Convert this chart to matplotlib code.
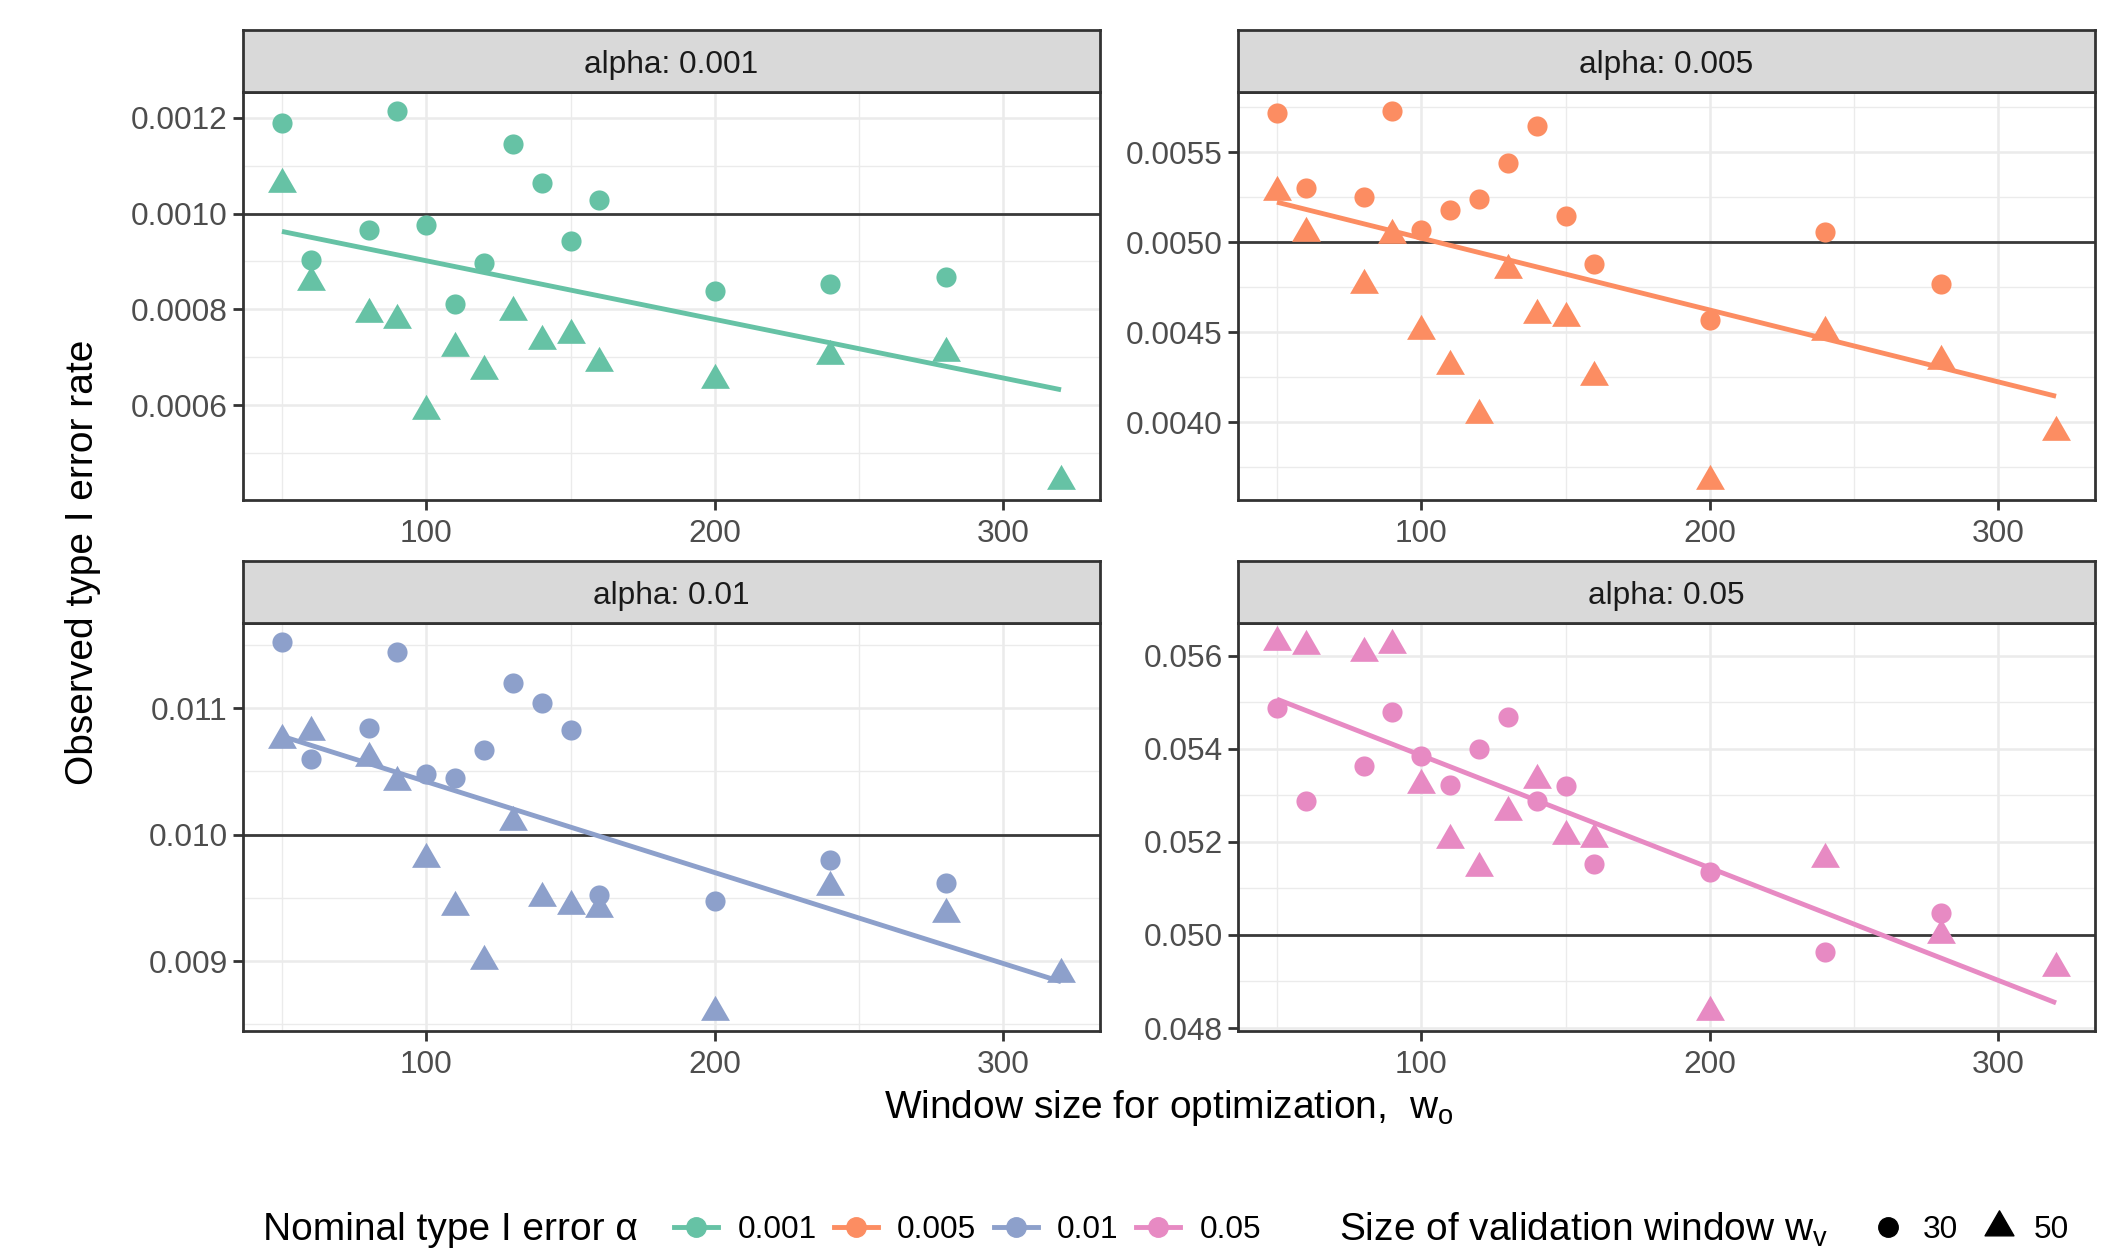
import numpy as np
import matplotlib
matplotlib.use("Agg")
import matplotlib.pyplot as plt
from matplotlib.lines import Line2D
from matplotlib.path import Path
from matplotlib.ticker import MultipleLocator, FormatStrFormatter

# window size for optimization (x), shared by every panel
window = [50, 60, 80, 90, 100, 110, 120, 130, 140, 150, 160, 200, 240, 280, 320]

alpha_levels = [0.001, 0.005, 0.01, 0.05]
alpha_labels = ["0.001", "0.005", "0.01", "0.05"]

# observed type I error rate, w_v = 30 (circles) and w_v = 50 (triangles)
a001_v30 = [0.001189, 0.000904, 0.000965, 0.001215, 0.000977, 0.000811, 0.000896, 0.001146,
            0.001063, 0.000943, 0.001028, 0.000838, 0.000852, 0.000867, np.nan]
a001_v50 = [0.001062, 0.000857, 0.000791, 0.000778, 0.000587, 0.000720, 0.000672, 0.000794,
            0.000734, 0.000747, 0.000688, 0.000652, 0.000702, 0.000709, 0.000441]
a005_v30 = [0.005716, 0.005301, 0.005251, 0.005731, 0.005066, 0.005177, 0.005238, 0.005441,
            0.005644, 0.005145, 0.004876, 0.004567, 0.005055, 0.004765, np.nan]
a005_v50 = [0.005277, 0.005051, 0.004763, 0.005040, 0.004506, 0.004311, 0.004037, 0.004846,
            0.004597, 0.004578, 0.004251, 0.003670, 0.004503, 0.004338, 0.003947]
a01_v30 = [0.011526, 0.010600, 0.010845, 0.011447, 0.010481, 0.010447, 0.010668, 0.011200,
           0.011039, 0.010829, 0.009521, 0.009476, 0.009802, 0.009618, np.nan]
a01_v50 = [0.010745, 0.010810, 0.010608, 0.010416, 0.009810, 0.009431, 0.009002, 0.010100,
           0.009500, 0.009434, 0.009413, 0.008594, 0.009587, 0.009376, 0.008900]
a05_v30 = [0.054881, 0.052884, 0.053633, 0.054795, 0.053847, 0.053226, 0.054000, 0.054681,
           0.052870, 0.053191, 0.051515, 0.051351, 0.049640, 0.050460, np.nan]
a05_v50 = [0.056300, 0.056207, 0.056050, 0.056228, 0.053212, 0.052036, 0.051444, 0.052649,
           0.053319, 0.052114, 0.052050, 0.048335, 0.051622, 0.050000, 0.049291]

v30_series = [a001_v30, a005_v30, a01_v30, a05_v30]
v50_series = [a001_v50, a005_v50, a01_v50, a05_v50]

colors = ["#66C2A5", "#FC8D62", "#8DA0CB", "#E78AC3"]
y_steps = [0.0002, 0.0005, 0.001, 0.002]
y_fmts = ["%.4f", "%.4f", "%.3f", "%.3f"]

plt.rcParams["font.family"] = ["Liberation Sans", "DejaVu Sans"]
plt.rcParams["mathtext.fontset"] = "custom"
plt.rcParams["mathtext.rm"] = "Liberation Sans"
plt.rcParams["mathtext.it"] = "Liberation Sans:italic"

W, H = 2103, 1254
fig = plt.figure(figsize=(W / 100, H / 100), dpi=100)


def box(l, t, w, h):
    return [l / W, 1 - (t + h) / H, w / W, h / H]


# triangle with its centroid on the data point, like R's pch 17
tri = Path([(0, 1), (-0.866, -0.5), (0.866, -0.5), (0, 1)],
           [Path.MOVETO, Path.LINETO, Path.LINETO, Path.CLOSEPOLY])

lefts = [243, 1238]
tops = [92, 623]
pw, ph, sh = 857, 408, 62
dark = "#333333"

x = np.array(window, dtype=float)
for i, alpha in enumerate(alpha_levels):
    r, c = divmod(i, 2)
    ax = fig.add_axes(box(lefts[c], tops[r], pw, ph))
    y30 = np.array(v30_series[i])
    y50 = np.array(v50_series[i])

    ax.axhline(alpha, color="#3a3a3a", lw=2.0, zorder=2)
    ax.scatter(x, y30, s=14.5 ** 2, marker="o", color=colors[i], lw=0, zorder=3)
    ax.scatter(x, y50, s=24 ** 2, marker=tri, color=colors[i], lw=0, zorder=3)

    # linear fit over both validation windows
    xs = np.concatenate([x, x])
    ys = np.concatenate([y30, y50])
    ok = ~np.isnan(ys)
    k, b = np.polyfit(xs[ok], ys[ok], 1)
    xl = np.array([x.min(), x.max()])
    ax.plot(xl, k * xl + b, color=colors[i], lw=3.5, zorder=4, solid_capstyle="butt")

    ax.set_xlim(x.min() - 0.05 * np.ptp(x), x.max() + 0.05 * np.ptp(x))
    lo, hi = np.nanmin(ys), np.nanmax(ys)
    ax.set_ylim(lo - 0.05 * (hi - lo), hi + 0.05 * (hi - lo))

    ax.xaxis.set_major_locator(MultipleLocator(100))
    ax.xaxis.set_minor_locator(MultipleLocator(50))
    ax.yaxis.set_major_locator(MultipleLocator(y_steps[i]))
    ax.yaxis.set_minor_locator(MultipleLocator(y_steps[i] / 2))
    ax.yaxis.set_major_formatter(FormatStrFormatter(y_fmts[i]))

    ax.grid(which="major", color="#EBEBEB", lw=1.8, zorder=0)
    ax.grid(which="minor", color="#EBEBEB", lw=1.0, zorder=0)
    ax.set_axisbelow(True)
    ax.tick_params(which="major", length=7, width=2, color=dark, labelsize=22.8,
                   labelcolor="#4D4D4D", pad=4)
    ax.tick_params(axis="x", which="major", pad=7)
    ax.tick_params(which="minor", length=0)
    for sp in ax.spines.values():
        sp.set_color(dark)
        sp.set_linewidth(2)

    sax = fig.add_axes(box(lefts[c], tops[r] - sh, pw, sh))
    sax.set_facecolor("#D9D9D9")
    sax.set_xticks([])
    sax.set_yticks([])
    for sp in sax.spines.values():
        sp.set_color(dark)
        sp.set_linewidth(2)
    sax.text(0.5, 0.44, f"alpha: {alpha_labels[i]}", ha="center", va="center",
             size=22.8, color="#1A1A1A", transform=sax.transAxes)

fig.text(83 / W, 1 - 562 / H, "Observed type I error rate", rotation=90,
         ha="center", va="center", size=28)
fig.text(1169 / W, 1 - 1108 / H, r"Window size for optimization,  w$_\mathrm{o}$",
         ha="center", va="center", size=28)

# bottom legends
ly = 1 - 1230 / H
fig.text(263 / W, ly, "Nominal type I error α", ha="left", va="center", size=28)
alpha_handles = [Line2D([0], [0], color=col, lw=3.5, marker="o", markersize=14)
                 for col in colors]
fig.legend(alpha_handles, alpha_labels, loc="center left", bbox_to_anchor=(674 / W, ly),
           ncol=4, frameon=False, fontsize=22.8, handlelength=1.4, handletextpad=0.6,
           columnspacing=0.55, borderpad=0, borderaxespad=0)

fig.text(1339 / W, ly, r"Size of validation window w$_\mathrm{v}$", ha="left",
         va="center", size=28)
shape_handles = [Line2D([0], [0], ls="none", marker="o", color="black", markersize=14),
                 Line2D([0], [0], ls="none", marker=tri, color="black", markersize=24)]
fig.legend(shape_handles, ["30", "50"], loc="center left", bbox_to_anchor=(1872 / W, ly),
           ncol=2, frameon=False, fontsize=22.8, handlelength=1.0, handletextpad=0.6,
           columnspacing=0.8, borderpad=0, borderaxespad=0)

fig.savefig("out.png", dpi=100)
